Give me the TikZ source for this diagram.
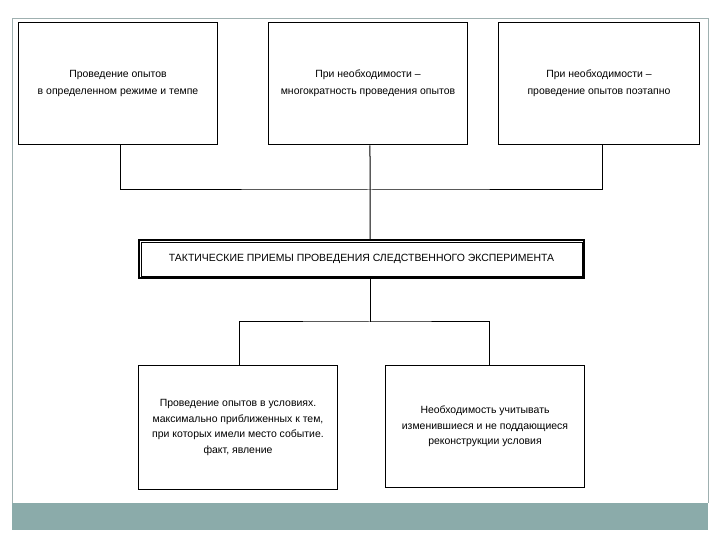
\documentclass[tikz,border=0pt]{standalone}
\usepackage{fontspec}
\setmainfont{Liberation Sans}
\usetikzlibrary{calc}
\definecolor{bandgreen}{HTML}{8BABAA}
\definecolor{framegray}{HTML}{9FB0B0}

\begin{document}
\begin{tikzpicture}[x=1bp,y=1bp,font=\fontsize{10.5}{15.5}\selectfont,
  box/.style={draw,line width=1.1bp,align=center,inner sep=0pt},
  link/.style={draw,line width=1bp}]
  \useasboundingbox (0,0) rectangle (720,540);
  % frame and band
  \fill[bandgreen] (12,10) rectangle (708,37);
  \draw[framegray,line width=.8bp] (12,37) -- (12,522) -- (708,522) -- (708,37);
  % top row
  \node[box,minimum width=200,minimum height=123] (t1) at (118,456.5) {Проведение опытов\\[1.5bp]в определенном режиме и темпе};
  \node[box,minimum width=200,minimum height=123] (t2) at (368,456.5) {При необходимости --\\[1.5bp]многократность проведения опытов};
  \node[box,minimum width=202,minimum height=123] (t3) at (599,456.5) {При необходимости --\\[1.5bp]проведение опытов поэтапно};
  % title
  \node[box,line width=1.8bp,minimum width=447,minimum height=38] (title) at (361.5,281) {ТАКТИЧЕСКИЕ ПРИЕМЫ ПРОВЕДЕНИЯ СЛЕДСТВЕННОГО ЭКСПЕРИМЕНТА};
  \draw[line width=.6bp] ($(title.north west)+(3,-3)$) rectangle ($(title.south east)+(-3,3)$);
  % bottom row
  \node[box,minimum width=200,minimum height=125] (b1) at (238,112.5) {Проведение опытов в условиях.\\максимально приближенных к тем,\\при которых имели место событие.\\факт, явление};
  \node[box,minimum width=200,minimum height=123] (b2) at (485,113.5) {Необходимость учитывать\\изменившиеся и не поддающиеся\\реконструкции условия};
  % connectors
  \coordinate (up) at (370,350);
  \coordinate (down) at (370,218);
  \draw[link] ([xshift=3]t1.south) |- (up) -| ([xshift=4]t3.south);
  \draw[link] ([xshift=2]t2.south) -- (up) -- (up |- title.north);
  \draw[link] (up |- title.south) -- (down);
  \draw[link] ([xshift=2]b1.north) |- (down) -| ([xshift=5]b2.north);
\end{tikzpicture}
\end{document}
